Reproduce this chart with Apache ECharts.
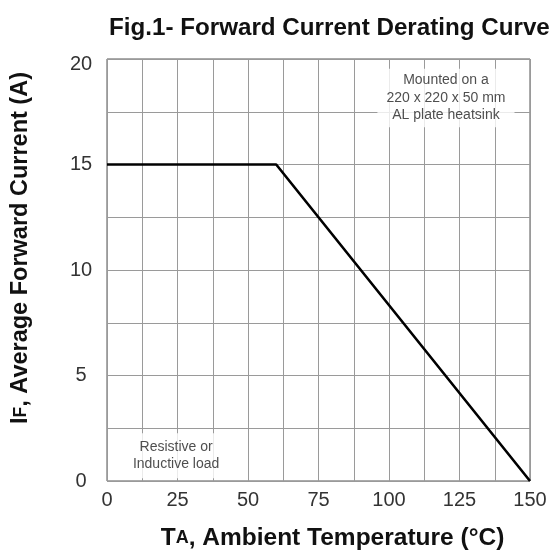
<!DOCTYPE html>
<html>
<head>
<meta charset="utf-8">
<script src="https://cdn.jsdelivr.net/npm/echarts@6/dist/echarts.min.js"></script>
<style>html,body{margin:0;padding:0;background:#fff;}#c{width:553px;height:556px;}</style>
</head>
<body>
<div id="c"></div>
<script>
// Data
var curveTemp = [0, 60, 150];
var curveCurrent = [15, 15, 0];
var xTicks = [0, 25, 50, 75, 100, 125, 150];
var yTicks = [0, 5, 10, 15, 20];
var noteHeatsink = ['Mounted on a', '220 x 220 x 50 mm', 'AL plate heatsink'];
var noteHeatsinkAt = [120.2, 18.15];
var noteLoad = ['Resistive or', 'Inductive load'];
var noteLoadAt = [24.5, 1.2];

var font = 'Liberation Sans, Arial, sans-serif';
var chart = echarts.init(document.getElementById('c'), null, {renderer: 'canvas'});
var lineData = curveTemp.map(function (t, i) { return [t, curveCurrent[i]]; });
var gridLine = {show: true, lineStyle: {color: '#9a9a9a', width: 1}};
function nameRich(big, small) {
  return {
    a: {fontFamily: font, fontSize: big, fontWeight: 'bold', color: '#111'},
    b: {fontFamily: font, fontSize: small, fontWeight: 'bold', color: '#111'}
  };
}
var yMax = yTicks[yTicks.length - 1];

chart.setOption({
  animation: false,
  backgroundColor: '#fff',
  title: {
    text: 'Fig.1- Forward Current Derating Curve',
    left: 104, top: 11,
    textStyle: {fontFamily: font, fontSize: 24.2, fontWeight: 'bold', color: '#111'}
  },
  grid: {left: 107, right: 23, top: 59, bottom: 75, show: true, borderColor: '#555', borderWidth: 1},
  xAxis: {
    type: 'value', min: xTicks[0], max: xTicks[xTicks.length - 1], interval: 25,
    axisLine: {show: false}, axisTick: {show: false},
    splitLine: gridLine,
    minorTick: {show: false, splitNumber: 2},
    minorSplitLine: gridLine,
    axisLabel: {fontFamily: font, fontSize: 20, color: '#333', margin: 9},
    name: '{a|T}{b|A}{a|, Ambient Temperature (°C)}',
    nameLocation: 'middle', nameGap: 45,
    nameTextStyle: {rich: nameRich(24.5, 18), padding: [0, 0, 0, 28]}
  },
  yAxis: {
    type: 'value', min: yTicks[0], max: yMax, interval: 5,
    axisLine: {show: false}, axisTick: {show: false},
    splitLine: gridLine,
    minorTick: {show: false, splitNumber: 2},
    minorSplitLine: gridLine,
    axisLabel: {
      fontFamily: font, fontSize: 20, color: '#333', margin: 26, align: 'center',
      formatter: function (v) { return v === yMax ? '{top|' + v + '}' : String(v); },
      rich: {top: {fontFamily: font, fontSize: 20, color: '#333', padding: [10, 0, 0, 0]}}
    },
    name: '{a|I}{b|F}{a|, Average Forward Current (A)}',
    nameLocation: 'middle', nameGap: 74, nameRotate: 90,
    nameTextStyle: {rich: nameRich(23.5, 17.5), padding: [0, 0, 0, 44]}
  },
  series: [
    {
      type: 'line', data: lineData, symbol: 'none', z: 3,
      lineStyle: {color: '#000', width: 2.6}
    },
    {
      type: 'scatter', symbolSize: 0, z: 2, silent: true,
      data: [
        {value: noteHeatsinkAt, label: {formatter: noteHeatsink.join('\n'), padding: [3, 9, 3, 9]}},
        {value: noteLoadAt, label: {formatter: noteLoad.join('\n'), padding: [5, 3, 5, 3]}}
      ],
      label: {
        show: true, position: 'inside',
        fontFamily: font, fontSize: 14, color: '#222', lineHeight: 17.5,
        align: 'center', verticalAlign: 'middle',
        backgroundColor: '#fff'
      }
    }
  ]
});
</script>
</body>
</html>
